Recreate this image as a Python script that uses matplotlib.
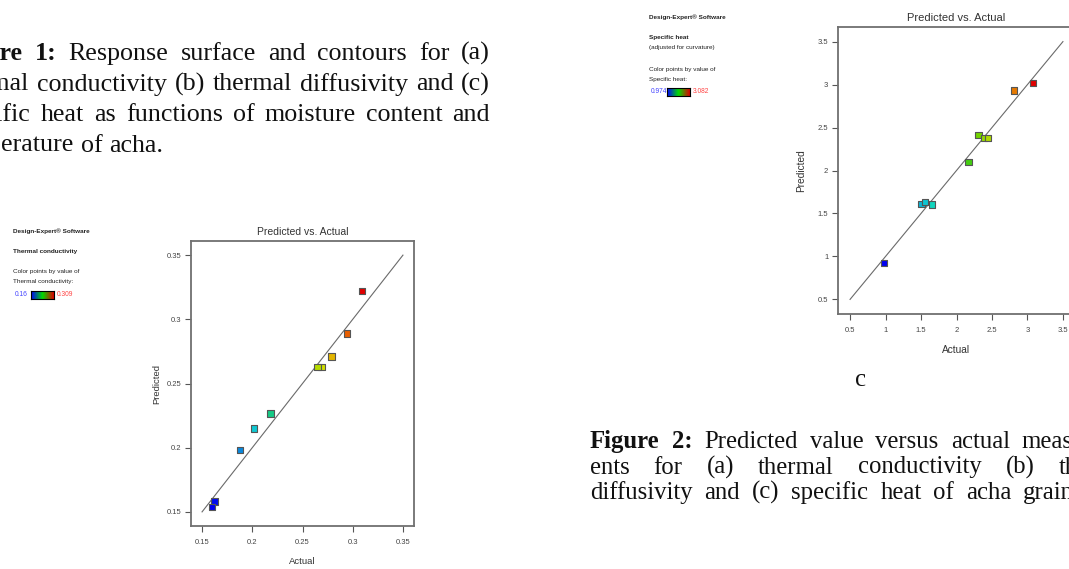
import matplotlib
matplotlib.use("Agg")
import numpy as np
import matplotlib.pyplot as plt
from matplotlib.colors import LinearSegmentedColormap, Normalize

W, H = 1069, 569
SERIF = ["Liberation Serif", "DejaVu Serif"]
SANS = ["Liberation Sans Narrow", "Liberation Sans", "DejaVu Sans"]

# Теплопроводность: фактические и предсказанные значения
tc_actual = [0.309, 0.294, 0.279, 0.269, 0.265, 0.218, 0.2015, 0.188, 0.1625, 0.160]
tc_pred = [0.322, 0.289, 0.271, 0.263, 0.263, 0.2265, 0.215, 0.198, 0.158, 0.154]
tc_ticks = [0.15, 0.2, 0.25, 0.3, 0.35]
tc_range = [0.16, 0.309]
tc_legend = [("Design-Expert® Software", True), ("Thermal conductivity", True),
             ("Color points by value of", False), ("Thermal conductivity:", False)]

# Удельная теплоёмкость
sh_actual = [3.082, 2.808, 2.31, 2.385, 2.445, 2.17, 1.506, 1.558, 1.655, 0.974]
sh_pred = [3.016, 2.93, 2.41, 2.38, 2.38, 2.10, 1.61, 1.633, 1.604, 0.92]
sh_ticks = [0.5, 1, 1.5, 2, 2.5, 3, 3.5]
sh_range = [0.974, 3.082]
sh_legend = [("Design-Expert® Software", True), ("Specific heat", True),
             ("(adjusted for curvature)", False), ("Color points by value of", False),
             ("Specific heat:", False)]

# Подписи к рисункам
caption1 = [[("Figure", True), ("1:", True), ("Response", False), ("surface", False), ("and", False),
             ("contours", False), ("for", False), ("(a)", False)],
            [("thermal", False), ("conductivity", False), ("(b)", False), ("thermal", False),
             ("diffusivity", False), ("and", False), ("(c)", False)],
            [("specific", False), ("heat", False), ("as", False), ("functions", False), ("of", False),
             ("moisture", False), ("content", False), ("and", False)],
            [("temperature", False), ("of", False), ("acha.", False)]]
caption2 = [[("Figure", True), ("2:", True), ("Predicted", False), ("value", False), ("versus", False),
             ("actual", False), ("measurem-", False)],
            [("ents", False), ("for", False), ("(a)", False), ("thermal", False), ("conductivity", False),
             ("(b)", False), ("thermal", False)],
            [("diffusivity", False), ("and", False), ("(c)", False), ("specific", False), ("heat", False),
             ("of", False), ("acha", False), ("grains.", False)]]

points_cmap = LinearSegmentedColormap.from_list(
    "de", [(0, "#0000f0"), (0.3, "#10d8d0"), (0.45, "#18c050"), (0.6, "#50d000"),
           (0.75, "#e0e000"), (0.9, "#e86000"), (1, "#e00000")])
legend_cmap = LinearSegmentedColormap.from_list("bar", ["#0000ff", "#00dd00", "#dd0000"])

fig = plt.figure(figsize=(W / 100, H / 100), dpi=100)
renderer = fig.canvas.get_renderer()


def fx(x):
    return x / W


def fy(y):
    return 1 - y / H


# Строка текста с выравниванием по ширине
def put_line(words, x0, x1, base_y, size, justify=True):
    items = []
    for word, bold in words:
        t = fig.text(fx(x0), fy(base_y), word, fontsize=size, family=SERIF,
                     weight="bold" if bold else "normal", va="baseline", color="#111111")
        items.append(t)
    widths = [t.get_window_extent(renderer).width for t in items]
    space = size * 100 / 72 * 0.25
    if justify and len(items) > 1:
        space = (x1 - x0 - sum(widths)) / (len(items) - 1)
    x = x0
    for t, w in zip(items, widths):
        t.set_x(fx(x))
        x += w + space


# Один график Predicted vs. Actual
def draw_chart(rect, actual, pred, ticks, lims, vrange, title_size, ylabelpad):
    ax = fig.add_axes([fx(rect[0]), fy(rect[3]), (rect[2] - rect[0]) / W, (rect[3] - rect[1]) / H])
    ax.plot([ticks[0], ticks[-1]], [ticks[0], ticks[-1]], color="#6a6a6a", lw=0.8, zorder=2)
    ax.scatter(actual, pred, c=actual, cmap=points_cmap, norm=Normalize(vrange[0], vrange[1]),
               marker="s", s=21, edgecolors="#555555", linewidths=0.8, zorder=3)
    ax.set_xlim(lims)
    ax.set_ylim(lims)
    ax.set_xticks(ticks)
    ax.set_yticks(ticks)
    ax.set_xticklabels(["%g" % t for t in ticks], family=SANS)
    ax.set_yticklabels(["%g" % t for t in ticks], family=SANS)
    ax.tick_params(direction="out", length=4, width=0.8, color="#555555",
                   labelsize=5.5, labelcolor="#444444")
    ax.tick_params(axis="x", pad=5)
    ax.tick_params(axis="y", pad=3)
    for s in ax.spines.values():
        s.set_color("#707070")
        s.set_linewidth(1.3)
    ax.set_title("Predicted vs. Actual", fontsize=title_size, color="#333333", family=SANS, pad=4)
    ax.set_xlabel("Actual", fontsize=title_size - 0.7, color="#333333", family=SANS, labelpad=8)
    ax.set_ylabel("Predicted", fontsize=title_size - 0.7, color="#333333", family=SANS,
                  labelpad=ylabelpad)
    return ax


# Легенда Design-Expert слева от графика
def draw_legend(x, ys, lines, vrange, bar_y):
    for (text, bold), y in zip(lines, ys):
        fig.text(fx(x), fy(y), text, fontsize=4.6, family=SANS, color="#222222",
                 weight="bold" if bold else "normal", va="center")
    fig.text(fx(x + 2), fy(bar_y), "%g" % vrange[0], fontsize=4.8, family=SANS,
             color="#4444ff", va="center")
    bx = x + 18
    bar = fig.add_axes([fx(bx), fy(bar_y + 4), 23 / W, 8 / H])
    bar.imshow(np.linspace(0, 1, 64).reshape(1, -1), cmap=legend_cmap, aspect="auto")
    bar.set_xticks([])
    bar.set_yticks([])
    for s in bar.spines.values():
        s.set_linewidth(0.8)
    fig.text(fx(bx + 26), fy(bar_y), "%g" % vrange[1], fontsize=4.8, family=SANS,
             color="#ff4444", va="center")


draw_chart([191, 241, 414, 526], tc_actual, tc_pred, tc_ticks, [0.139, 0.361], tc_range, 7.5, 4)
draw_chart([838, 27, 1075, 314], sh_actual, sh_pred, sh_ticks, [0.33, 3.67], sh_range, 8, 8.3)

draw_legend(13, [231, 252, 272, 282], tc_legend, tc_range, 295)
draw_legend(649, [17, 37, 48, 69, 79], sh_legend, sh_range, 92)

for i, line in enumerate(caption1):
    put_line(line, -50, 490, 60 + i * 30.5, 18.7, justify=(i < 3))

x_ends = [1132, 1134, 1090]
for i, line in enumerate(caption2):
    put_line(line, 590, x_ends[i], 448 + i * 25.5, 17.8)

fig.text(fx(861), fy(386), "c", fontsize=17.8, family=SERIF, ha="center", va="baseline", color="#111111")

fig.savefig("out.png", dpi=100)
